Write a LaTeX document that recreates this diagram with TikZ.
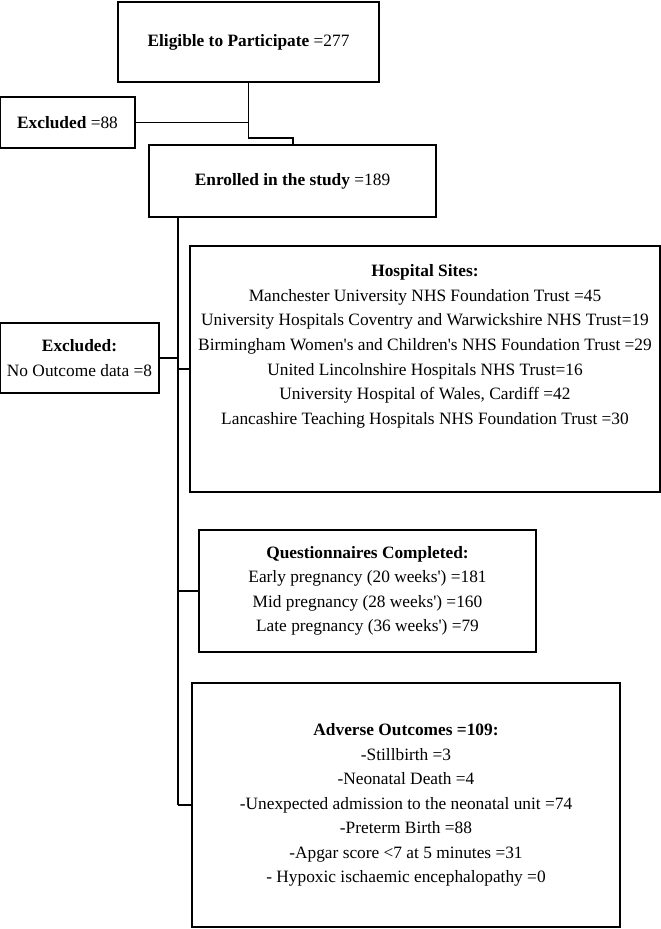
\documentclass[tikz,border=0pt]{standalone}
\usepackage{fontspec}
\setmainfont{Liberation Serif}
\usepackage{tikz}

\begin{document}
\begin{tikzpicture}[x=0.75pt, y=-0.75pt,
    box/.style={draw, line width=1.5pt, align=center, inner sep=2pt,
                font=\fontsize{13}{18.4}\selectfont},
    link/.style={line width=1pt}]
     \useasboundingbox (0,0) rectangle (661,929);

     \node[box, minimum width=261*0.75pt, minimum height=80*0.75pt] (elig) at (248.5,42) {\textbf{Eligible to Participate} =277};
     \node[box, minimum width=135*0.75pt, minimum height=51*0.75pt] (excla) at (67.5,122.5) {\textbf{Excluded} =88};
     \node[box, minimum width=287*0.75pt, minimum height=72*0.75pt] (enrol) at (292.5,181) {\textbf{Enrolled in the study} =189};
     \node[box, minimum width=159*0.75pt, minimum height=70*0.75pt] (exclb) at (79.5,358) {\textbf{Excluded:}\\ No Outcome data =8};
     \node[box, minimum width=470*0.75pt, minimum height=246*0.75pt] (hosp) at (425,369) {\textbf{Hospital Sites:}\\
        Manchester University NHS Foundation Trust =45\\
        University Hospitals Coventry and Warwickshire NHS Trust=19\\
        Birmingham Women\textquotesingle s and Children\textquotesingle s NHS Foundation Trust =29\\
        United Lincolnshire Hospitals NHS Trust=16\\
        University Hospital of Wales, Cardiff =42\\
        Lancashire Teaching Hospitals NHS Foundation Trust =30\\ ~\\ ~};
     \node[box, minimum width=337*0.75pt, minimum height=122*0.75pt] (quest) at (367.5,591) {\textbf{Questionnaires Completed:}\\
        Early pregnancy (20 weeks\textquotesingle) =181\\
        Mid pregnancy (28 weeks\textquotesingle) =160\\
        Late pregnancy (36 weeks\textquotesingle) =79};
     \node[box, minimum width=428*0.75pt, minimum height=244*0.75pt] (adv) at (406,805) {\textbf{Adverse Outcomes =109:}\\
        -Stillbirth =3\\
        -Neonatal Death =4\\
        -Unexpected admission to the neonatal unit =74\\
        -Preterm Birth =88\\
        -Apgar score <7 at 5 minutes =31\\
        - Hypoxic ischaemic encephalopathy =0};

     \coordinate (bend) at (293,138);
     \coordinate (trunk) at (178,805);

     \draw[link] (elig.south) |- (bend) -- (bend |- enrol.north);
     \draw[link] (excla.east) -- (excla.east -| elig.south);
     \draw[link] (enrol.south -| trunk) -- (trunk);
     \draw[link] (exclb.east) -- (exclb.east -| trunk);
     \draw[link] (hosp.west -| trunk) -- (hosp.west);
     \draw[link] (quest.west -| trunk) -- (quest.west);
     \draw[link] (trunk) -- (adv.west);
 \end{tikzpicture}
\end{document}
